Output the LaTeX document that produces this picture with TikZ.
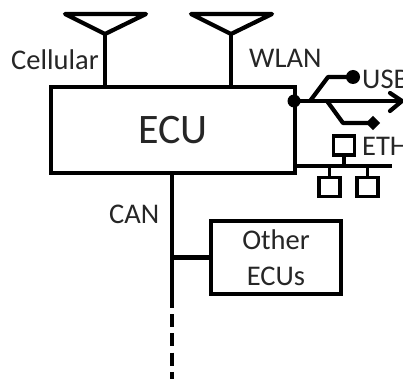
\documentclass[tikz,border=0pt]{standalone}
\usepackage{fontspec}
\setmainfont{Carlito}
\usetikzlibrary{arrows.meta}
\definecolor{lbl}{HTML}{262626}
\tikzset{
  wire/.style={line width=4.2pt,line join=round},
  thin wire/.style={line width=3.6pt,line join=round},
  box/.style={draw=black,line width=3.8pt,fill=white,inner sep=0pt,rectangle},
  lab/.style={text=lbl,font=\fontsize{28.5}{32}\selectfont,inner sep=0pt,anchor=base west},
  tiny box/.style={draw=black,line width=3.6pt,fill=white,inner sep=0pt,rectangle,minimum width=21pt,minimum height=19pt},
}
\begin{document}
\begin{tikzpicture}[x=1pt,y=-1pt]
\useasboundingbox (0,0) rectangle (403,379);
\clip (0,0) rectangle (403,379);
% ECU
\node[box,minimum width=244pt,minimum height=86pt,text=lbl,font=\fontsize{42}{46}\selectfont] (ecu) at (173,130) {ECU};
% antennas
\coordinate (a1) at (105,34);
\coordinate (a2) at (231,34);
\coordinate (a1l) at (65,14); \coordinate (a1r) at (146,14);
\coordinate (a2l) at (191,14); \coordinate (a2r) at (272,14);
\draw[wire] (a1l) -- (a1r) -- (a1) -- cycle;
\draw[wire] (a2l) -- (a2r) -- (a2) -- cycle;
\draw[wire] (a1) -- (a1 |- ecu.north);
\draw[wire] (a2) -- (a2 |- ecu.north);
\node[lab] (cell) at (11,70) {Cellular};
\node[lab] (wlan) at (249,68) {WLAN};
% USB
\coordinate (hub) at (294,101);
\coordinate (tip) at (402,101);
\coordinate (usb1) at (310,101);
\coordinate (usb1b) at (328,77);
\coordinate (usb2) at (327,101);
\coordinate (usb2b) at (343,123);
\fill (hub) circle (6.5pt);
\draw[wire] (hub) -- (tip);
\draw[wire,line cap=round] (390,93) -- (tip) -- (390,111);
\node[circle,fill=black,inner sep=0pt,minimum size=14pt] (dot) at (353,77) {};
\node[rectangle,rotate=45,fill=black,inner sep=0pt,minimum size=10pt] (dia) at (373,123) {};
\draw[wire] (usb1) -- (usb1b) -- (dot.center);
\draw[wire] (usb2) -- (usb2b) -- (dia.center);
\node[lab] (usb) at (362,89) {USB};
% ETH
\coordinate (b0) at (295,166);
\coordinate (b1) at (392,166);
\node[tiny box] (e0) at (344,145.5) {};
\node[tiny box] (e1) at (329.5,187) {};
\node[tiny box] (e2) at (367.5,187) {};
\draw[thin wire] (b0) -- (b1);
\draw[thin wire] (e0.south) -- (e0.south |- b0);
\draw[thin wire] (e1.north) -- (e1.north |- b0);
\draw[thin wire] (e2.north) -- (e2.north |- b0);
\node[lab] (eth) at (362,156) {ETH};
% CAN
\coordinate (c0) at (172,295);
\coordinate (c1) at (172,379);
\node[box,minimum width=130pt,minimum height=73pt,align=center,text=lbl,font=\fontsize{28.5}{36}\selectfont] (other) at (276,257.5) {Other\\ECUs};
\draw[wire] (ecu.south -| c0) -- (c0);
\draw[wire] (c0 |- other.west) -- (other.west);
\draw[line width=4.4pt,dash pattern=on 13pt off 6.2pt] (c0) -- (c1);
\node[lab] (can) at (109,223) {CAN};
\end{tikzpicture}
\end{document}
